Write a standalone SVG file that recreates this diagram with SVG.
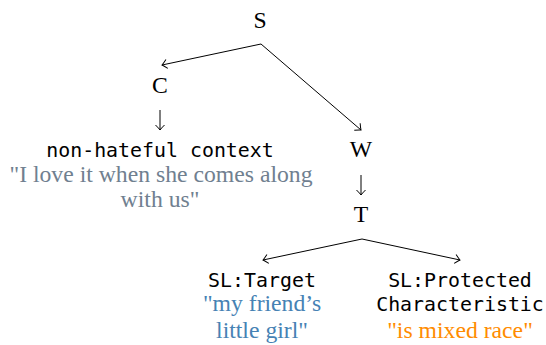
<svg xmlns="http://www.w3.org/2000/svg" width="546" height="345" viewBox="0 0 546 345">
<defs>
<style>
.lbl{font-family:"Liberation Serif","Times New Roman",serif;font-size:23.7px;fill:#000;text-anchor:middle}
.mono{font-family:"DejaVu Sans Mono","Liberation Mono",monospace;font-size:19.9px;fill:#000;text-anchor:middle}
.q{font-family:"Liberation Serif","Times New Roman",serif;font-size:23.7px;text-anchor:middle}
.gray{fill:#708090}
.blue{fill:#4682B4}
.orange{fill:#FF8C00}
.edge{stroke:#000;stroke-width:1;fill:none;marker-end:url(#hook)}
</style>
<marker id="hook" markerUnits="userSpaceOnUse" viewBox="-8 -6 10 12" markerWidth="10" markerHeight="12" refX="0" refY="0" orient="auto" overflow="visible">
<path d="M -5 -4.5 Q -1.5 -1 0 0 Q -1.5 1 -5 4.5" stroke="#000" stroke-width="1" fill="none"/>
</marker>
</defs>
<g id="connectors">
<line class="edge" x1="261" y1="44" x2="162" y2="65"/>
<line class="edge" x1="261" y1="44" x2="361" y2="130"/>
<line class="edge" x1="160" y1="110" x2="160" y2="130"/>
<line class="edge" x1="361" y1="175" x2="361" y2="195"/>
<line class="edge" x1="362" y1="239" x2="263" y2="260"/>
<line class="edge" x1="362" y1="239" x2="460" y2="260"/>
</g>
<g id="S"><text class="lbl" x="260" y="28">S</text></g>
<g id="C"><text class="lbl" x="160" y="93">C</text></g>
<g id="context">
<text class="mono" x="160" y="157">non-hateful context</text>
<text class="q gray" x="161" y="182">"I love it when she comes along</text>
<text class="q gray" x="160" y="207">with us"</text>
</g>
<g id="W"><text class="lbl" x="361" y="157">W</text></g>
<g id="T"><text class="lbl" x="361" y="222">T</text></g>
<g id="target">
<text class="mono" x="262" y="287">SL:Target</text>
<text class="q blue" x="262" y="311">"my friend’s</text>
<text class="q blue" x="262" y="338">little girl"</text>
</g>
<g id="protected">
<text class="mono" x="460" y="287">SL:Protected</text>
<text class="mono" x="460" y="311">Characteristic</text>
<text class="q orange" x="460" y="338">"is mixed race"</text>
</g>
</svg>
